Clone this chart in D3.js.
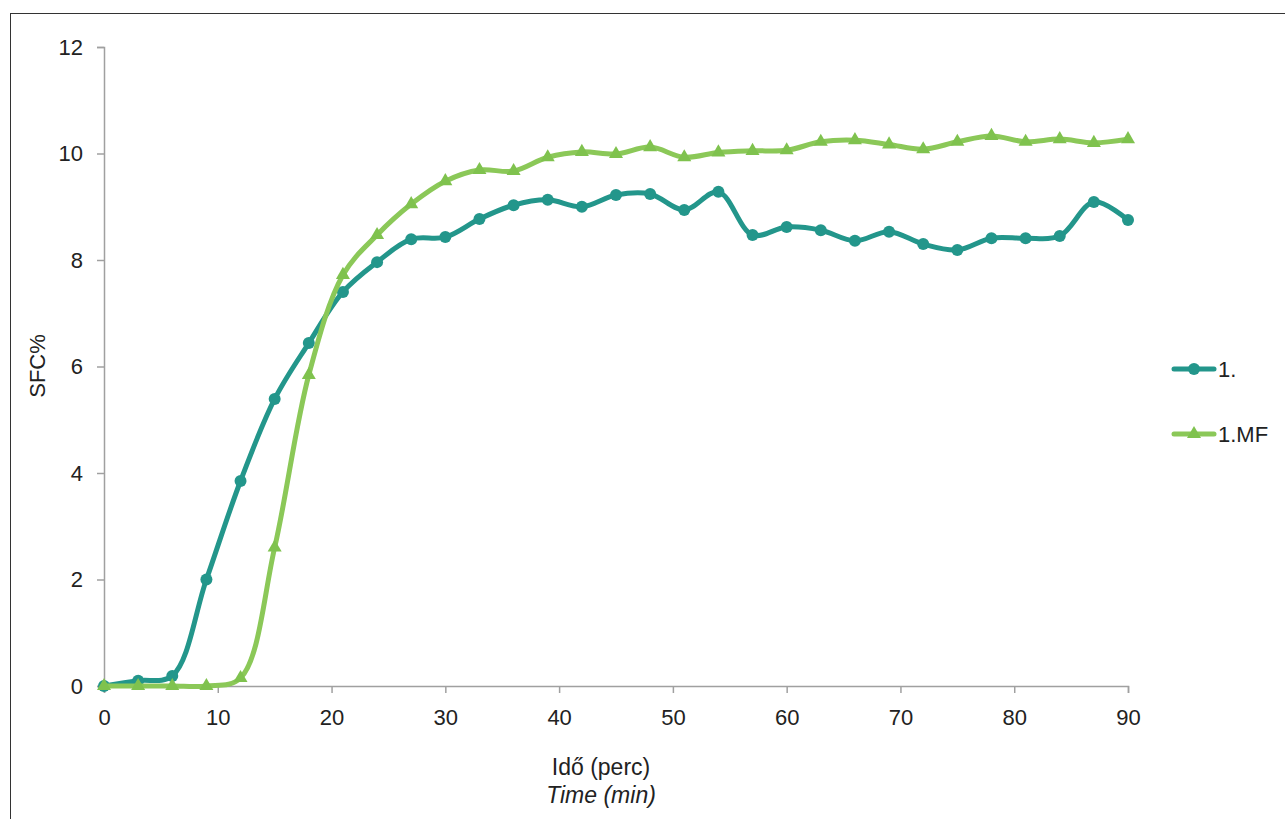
<!DOCTYPE html>
<html>
<head>
<meta charset="utf-8">
<script src="https://cdn.jsdelivr.net/npm/d3@7"></script>
<style>
  html, body { margin: 0; padding: 0; background: #fff; }
  svg { display: block; }
  text { font-family: "Liberation Sans", Arial, Helvetica, sans-serif; fill: #222; }
</style>
</head>
<body>
<svg id="chart" width="1285" height="819"></svg>
<script>
const times = [0,3,6,9,12,15,18,21,24,27,30,33,36,39,42,45,48,51,54,57,60,63,66,69,72,75,78,81,84,87,90];
const series1 = [0,0.1,0.19,2.0,3.85,5.39,6.44,7.4,7.96,8.39,8.43,8.77,9.03,9.13,9.0,9.22,9.24,8.94,9.28,8.47,8.62,8.56,8.36,8.53,8.3,8.19,8.41,8.41,8.45,9.09,8.75];
const series1MF = [0,0,0,0,0.15,2.6,5.84,7.72,8.47,9.05,9.48,9.69,9.67,9.93,10.03,9.99,10.12,9.93,10.02,10.05,10.06,10.22,10.25,10.17,10.08,10.22,10.33,10.22,10.27,10.2,10.27];
const seriesNames = ["1.", "1.MF"];
const xTicks = [0,10,20,30,40,50,60,70,80,90];
const yTicks = [0,2,4,6,8,10,12];

const svg = d3.select("#chart");
const colors = ["#23968b", "#8bc858"];
const markerColors = ["#23968b", "#7fc24e"];

// outer border
svg.append("rect").attr("x", 10.5).attr("y", 13.5).attr("width", 1290).attr("height", 820)
  .attr("fill", "none").attr("stroke", "#333").attr("stroke-width", 1);

const x = d3.scaleLinear().domain([0, 90]).range([104, 1128]);
const y = d3.scaleLinear().domain([0, 12]).range([686, 47]);

const xAxis = svg.append("g").attr("transform", "translate(0,686)")
  .call(d3.axisBottom(x).tickValues(xTicks).tickSize(7).tickPadding(16).tickFormat(d3.format("d")));
const yAxis = svg.append("g").attr("transform", "translate(104,0)")
  .call(d3.axisLeft(y).tickValues(yTicks).tickSize(7).tickPadding(14).tickFormat(d3.format("d")));
[xAxis, yAxis].forEach(g => {
  g.selectAll("path.domain").attr("stroke", "#a0a0a0").attr("stroke-width", 1.5);
  g.selectAll(".tick line").attr("stroke", "#a0a0a0").attr("stroke-width", 1.5);
  g.selectAll(".tick text").attr("font-size", 22).attr("fill", "#222")
    .style("font-family", '"Liberation Sans", Arial, sans-serif');
});

const line = d3.line().x(d => x(d[0])).y(d => y(d[1])).curve(d3.curveCatmullRom.alpha(0.5));

const data = [series1, series1MF].map(vals => times.map((t, i) => [t, vals[i]]));

const triangle = d3.symbol().type(d3.symbolTriangle).size(85);

data.forEach((pts, k) => {
  svg.append("path").datum(pts).attr("d", line)
    .attr("fill", "none").attr("stroke", colors[k]).attr("stroke-width", 5)
    .attr("stroke-linejoin", "round").attr("stroke-linecap", "round");
  if (k === 0) {
    svg.append("g").selectAll("circle").data(pts).join("circle")
      .attr("cx", d => x(d[0])).attr("cy", d => y(d[1])).attr("r", 6).attr("fill", markerColors[k]);
  } else {
    svg.append("g").selectAll("path").data(pts).join("path")
      .attr("d", triangle).attr("transform", d => `translate(${x(d[0])},${y(d[1])})`).attr("fill", markerColors[k]);
  }
});

// legend
const legY = [369, 434];
seriesNames.forEach((name, k) => {
  const g = svg.append("g");
  g.append("line").attr("x1", 1174).attr("x2", 1214).attr("y1", legY[k]).attr("y2", legY[k])
    .attr("stroke", colors[k]).attr("stroke-width", 5).attr("stroke-linecap", "round");
  if (k === 0) {
    g.append("circle").attr("cx", 1194).attr("cy", legY[k]).attr("r", 6).attr("fill", markerColors[k]);
  } else {
    g.append("path").attr("d", triangle).attr("transform", `translate(1194,${legY[k]})`).attr("fill", markerColors[k]);
  }
  g.append("text").attr("x", 1218).attr("y", legY[k]).attr("dy", "0.35em").attr("font-size", 22).text(name);
});

// axis titles
svg.append("text").attr("transform", "translate(45,366) rotate(-90)").attr("text-anchor", "middle")
  .attr("font-size", 22).text("SFC%");
svg.append("text").attr("x", 601).attr("y", 775).attr("text-anchor", "middle").attr("font-size", 23).text("Idő (perc)");
svg.append("text").attr("x", 601).attr("y", 803).attr("text-anchor", "middle").attr("font-size", 23)
  .attr("font-style", "italic").text("Time (min)");
</script>
</body>
</html>
